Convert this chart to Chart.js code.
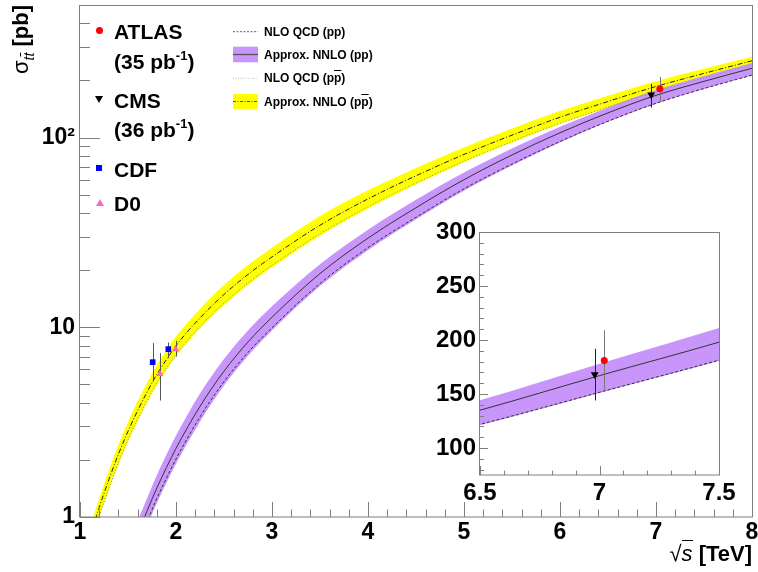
<!DOCTYPE html>
<html>
<head>
<meta charset="utf-8">
<script src="https://cdn.jsdelivr.net/npm/chart.js@4.4.1/dist/chart.umd.min.js"></script>
<style>
body { margin: 0; background: #fff; }
#wrap { position: relative; width: 758px; height: 572px; overflow: hidden; font-family: 'Liberation Sans', Arial, sans-serif; color: #000; }
canvas { position: absolute; }
.t { position: absolute; white-space: nowrap; font-weight: bold; }
.big { font-size: 21px; line-height: 21px; }
.small { font-size: 12px; line-height: 14px; }
.sup { font-size: 13px; position: relative; top: -9px; }
.ob { text-decoration: overline; }
.mk { position: absolute; width: 0; height: 0; }
</style>
</head>
<body>
<div id="wrap">
  <canvas id="main" width="758" height="572" style="left:0;top:0"></canvas>
  <canvas id="inset" width="330" height="300" style="left:420px;top:215px"></canvas>

  <!-- legenda experimentos -->
  <div class="mk" style="left:95.8px;top:26.5px;width:7px;height:7px;border-radius:50%;background:#ff0000"></div>
  <div class="t big" style="left:114px;top:20.5px">ATLAS</div>
  <div class="t big" style="left:114px;top:50.7px">(35 pb<span class="sup">-1</span>)</div>
  <div class="mk" style="left:95.3px;top:95.5px;border-left:4px solid transparent;border-right:4px solid transparent;border-top:7px solid #000"></div>
  <div class="t big" style="left:114px;top:89.5px">CMS</div>
  <div class="t big" style="left:114px;top:118.9px">(36 pb<span class="sup">-1</span>)</div>
  <div class="mk" style="left:96px;top:165.3px;width:6px;height:6px;background:#0000ff"></div>
  <div class="t big" style="left:114px;top:158.9px">CDF</div>
  <div class="mk" style="left:96px;top:198.8px;border-left:4px solid transparent;border-right:4px solid transparent;border-bottom:7px solid #ff66cc"></div>
  <div class="t big" style="left:114px;top:192.9px">D0</div>

  <!-- legenda teoria -->
  <svg style="position:absolute;left:233px;top:24px" width="26" height="88">
    <line x1="0" y1="7.7" x2="25" y2="7.7" stroke="#333" stroke-width="0.8" stroke-dasharray="2 1.5"/>
    <rect x="0" y="22.7" width="25" height="15.6" fill="rgb(200,150,250)"/>
    <line x1="0" y1="30.5" x2="25" y2="30.5" stroke="#555" stroke-width="1.3"/>
    <line x1="0" y1="54.3" x2="25" y2="54.3" stroke="#aaa" stroke-width="0.8" stroke-dasharray="1 1.5"/>
    <rect x="0" y="70" width="25" height="15" fill="#ffff00"/>
    <line x1="0" y1="77.5" x2="25" y2="77.5" stroke="#333" stroke-width="0.8" stroke-dasharray="3 1.5 1 1.5"/>
  </svg>
  <div class="t small" style="left:264px;top:24.8px">NLO QCD (pp)</div>
  <div class="t small" style="left:264px;top:47.6px">Approx. NNLO (pp)</div>
  <div class="t small" style="left:264px;top:71.4px">NLO QCD (p<span class="ob">p</span>)</div>
  <div class="t small" style="left:264px;top:94.6px">Approx. NNLO (p<span class="ob">p</span>)</div>

  <!-- titulos de ejes -->
  <div class="t" style="left:8px;top:95px;width:90px;text-align:right;font-size:22px;line-height:26px;transform-origin:0 0;transform:rotate(-90deg)"><span style="font-weight:normal">σ</span><span style="font-size:14px;font-style:italic;font-weight:normal;position:relative;top:6px">t<span class="ob">t</span></span> [pb]</div>
  <div class="t" style="left:560px;top:541px;width:192px;text-align:right;font-size:22px;line-height:26px"><span style="font-weight:normal">√<span style="border-top:1px solid #000;font-style:italic">s</span></span> [TeV]</div>
</div>

<script>
// Energía (TeV) y secciones eficaces (pb)
const sqrtS = [1.1, 1.2, 1.3, 1.4, 1.5, 1.6, 1.7, 1.8, 1.9, 2.0, 2.25, 2.5, 2.75, 3.0, 3.5, 4.0, 4.5, 5.0, 5.5, 6.0, 6.5, 7.0, 7.5, 8.0];

// p-pbar
const nnloPpbar   = [0.77, 1.12, 1.57, 2.14, 2.83, 3.63, 4.57, 5.64, 6.75, 8.0, 11.2, 14.9, 19.0, 23.5, 34.5, 47.5, 62.9, 81.5, 103, 128, 155, 186, 218, 254];
const nnloPpbarHi = [0.86, 1.25, 1.76, 2.40, 3.17, 4.07, 5.12, 6.32, 7.56, 8.96, 12.5, 16.7, 21.3, 26.3, 38.6, 52.7, 69.2, 88.8, 111.8, 138.2, 166.3, 198.1, 230.6, 266.7];
const nnloPpbarLo = [0.68, 0.99, 1.38, 1.88, 2.49, 3.19, 4.02, 4.96, 5.94, 7.04, 9.86, 13.1, 16.7, 20.7, 30.4, 42.3, 56.6, 74.2, 94.2, 117.8, 144.2, 173.9, 204.9, 240];
const nloPpbar    = [0.69, 1.01, 1.41, 1.93, 2.55, 3.27, 4.11, 5.08, 6.08, 7.2, 10.1, 13.4, 17.1, 21.2, 31.1, 43.2, 57.6, 75.0, 95.3, 119, 144.9, 174.8, 206, 241.3];

// p-p
const nnloPp   = [0.16, 0.22, 0.31, 0.43, 0.59, 0.81, 1.08, 1.42, 1.82, 2.30, 3.83, 5.87, 8.37, 11.3, 19.2, 29.5, 42.7, 60, 81, 106, 135, 167, 198, 232];
const nnloPpHi = [0.19, 0.26, 0.36, 0.50, 0.69, 0.95, 1.26, 1.66, 2.13, 2.69, 4.48, 6.81, 9.63, 12.9, 21.5, 32.7, 47.0, 65.4, 87.5, 114, 144.2, 178, 211, 247];
const nnloPpLo = [0.13, 0.18, 0.26, 0.36, 0.49, 0.67, 0.90, 1.18, 1.51, 1.91, 3.18, 4.93, 7.07, 9.61, 16.5, 25.5, 37.1, 52.5, 71.3, 94.3, 121.1, 151, 180.6, 212.3];
const nloPp    = [0.14, 0.19, 0.27, 0.38, 0.52, 0.71, 0.95, 1.25, 1.60, 2.02, 3.37, 5.17, 7.37, 9.94, 17.0, 26.3, 38.0, 53.7, 72.5, 95.4, 121.9, 151.6, 181.4, 213.4];

// Medidas
const cdfX = [1.757, 1.92],  cdfY = [6.55, 7.67], cdfLo = [5.18, 6.88], cdfHi = [8.25, 8.31];
const d0X  = [1.833, 1.997], d0Y  = [5.68, 7.67], d0Lo  = [4.11, 7.01], d0Hi  = [7.31, 8.49];
const cmsX = [6.95],  cmsInsetX = [6.98],  cmsY = [168],  cmsLo = [144],  cmsHi = [192];
const atlasX = [7.04], atlasInsetX = [7.02], atlasY = [181], atlasLo = [154], atlasHi = [209];

// Ejes
const xTicksMain = [1, 2, 3, 4, 5, 6, 7, 8];
const yTicksMain = [1, 10, 100];
const xTicksInset = [6.5, 7, 7.5];
const yTicksInset = [100, 150, 200, 250, 300];

const FONT = "'Liberation Sans', Arial, sans-serif";
const YELLOW = '#ffff00';
const PURPLE = 'rgb(200,150,250)';
const AXIS_GRAY = '#7f7f7f';

function pts(xs, ys) {
    return xs.map((x, i) => ({ x: x, y: ys[i] }));
}

function banda(hi, lo, color, order) {
    return [
        { data: pts(sqrtS, hi), fill: '+1', backgroundColor: color, borderColor: 'rgba(0,0,0,0)',
          borderWidth: 0, pointRadius: 0, cubicInterpolationMode: 'monotone', order: order },
        { data: pts(sqrtS, lo), fill: false, borderColor: 'rgba(0,0,0,0)',
          borderWidth: 0, pointRadius: 0, cubicInterpolationMode: 'monotone', order: order }
    ];
}

function curva(ys, color, dash) {
    return { data: pts(sqrtS, ys), fill: false, borderColor: color, borderWidth: 1, borderDash: dash,
             pointRadius: 0, cubicInterpolationMode: 'monotone', order: 5 };
}

function marcadores(xs, ys, lo, hi, estilo, color, radio, rot, errColor) {
    return { data: pts(xs, ys), showLine: false, fill: false, pointStyle: estilo, pointRadius: radio,
             pointRotation: rot, pointBackgroundColor: color, pointBorderColor: color, pointBorderWidth: 0,
             errLow: lo, errHigh: hi, errColor: errColor, order: 1 };
}

function range(from, step, n) {
    const out = [];
    for (let i = 0; i <= n; i++) out.push(+(from + i * step).toFixed(6));
    return out;
}

function fijarEje(w, h) {
    return s => {
        if (w) s.width = w;
        if (h) s.height = h;
        s.paddingLeft = s.paddingRight = s.paddingTop = s.paddingBottom = 0;
    };
}

// Barras de error verticales, dibujadas justo antes de los marcadores
const errorBars = {
    id: 'errorBars',
    beforeDatasetDraw(chart, args) {
        const ds = chart.data.datasets[args.index];
        if (!ds.errLow) return;
        const { ctx, scales: { x, y } } = chart;
        ctx.save();
        ctx.strokeStyle = ds.errColor;
        ctx.lineWidth = 1;
        ds.data.forEach((p, i) => {
            const px = Math.round(x.getPixelForValue(p.x)) + 0.5;
            ctx.beginPath();
            ctx.moveTo(px, y.getPixelForValue(ds.errLow[i]));
            ctx.lineTo(px, y.getPixelForValue(ds.errHigh[i]));
            ctx.stroke();
        });
        ctx.restore();
    }
};

// Marco y marcas hacia dentro, estilo ROOT
const rootAxes = {
    id: 'rootAxes',
    beforeDatasetsDraw(chart, args, opts) {
        const { ctx, chartArea: a } = chart;
        ctx.save();
        ctx.fillStyle = '#fff';
        ctx.fillRect(a.left, a.top, a.right - a.left, a.bottom - a.top);
        ctx.restore();
    },
    afterDraw(chart, args, opts) {
        const { ctx, chartArea: a, scales: { x, y } } = chart;
        ctx.save();
        ctx.strokeStyle = AXIS_GRAY;
        ctx.lineWidth = 1;
        ctx.strokeRect(Math.round(a.left) - 0.5, Math.round(a.top) + 0.5,
                       Math.round(a.right - a.left) + 1, Math.round(a.bottom - a.top) - 0.5);
        ctx.beginPath();
        opts.xMinor.forEach(v => {
            const px = Math.round(x.getPixelForValue(v)) + 0.5;
            const len = opts.xMajor.includes(v) ? opts.xLen : opts.xLen / 2;
            ctx.moveTo(px, a.bottom);
            ctx.lineTo(px, a.bottom - len);
        });
        opts.yMinor.forEach(v => {
            const py = Math.round(y.getPixelForValue(v)) + 0.5;
            const len = opts.yMajor.includes(v) ? opts.yLen : opts.yLen / 2;
            ctx.moveTo(a.left, py);
            ctx.lineTo(a.left + len, py);
        });
        ctx.stroke();
        ctx.restore();
    }
};

const logMinor = [];
[1, 10, 100].forEach(d => { for (let k = 1; k <= 9; k++) if (k * d <= 500) logMinor.push(k * d); });

const fuenteTicks = size => ({ family: FONT, size: size, weight: 'bold' });

// Gráfico principal
new Chart(document.getElementById('main'), {
    type: 'line',
    data: {
        datasets: [
            ...banda(nnloPpbarHi, nnloPpbarLo, YELLOW, 10),
            ...banda(nnloPpHi, nnloPpLo, PURPLE, 9),
            curva(nnloPpbar, '#222', [5, 2, 1, 2]),
            curva(nloPpbar, '#888', [1, 2]),
            curva(nnloPp, '#333', []),
            curva(nloPp, '#333', [3, 2]),
            marcadores(cdfX, cdfY, cdfLo, cdfHi, 'rect', '#0000ff', 4, 0, '#555'),
            marcadores(d0X, d0Y, d0Lo, d0Hi, 'triangle', '#ff66cc', 4, 0, '#555'),
            marcadores(cmsX, cmsY, cmsLo, cmsHi, 'triangle', '#000', 4.5, 180, '#222'),
            marcadores(atlasX, atlasY, atlasLo, atlasHi, 'circle', '#ff0000', 3.5, 0, '#777')
        ]
    },
    options: {
        responsive: false,
        animation: false,
        devicePixelRatio: 1,
        layout: { padding: { top: 5, right: 6, left: 0, bottom: 0 } },
        plugins: {
            legend: { display: false },
            tooltip: { enabled: false },
            rootAxes: { xMinor: range(1, 0.2, 35), xMajor: xTicksMain, xLen: 15,
                        yMinor: logMinor, yMajor: yTicksMain, yLen: 20 }
        },
        scales: {
            x: {
                type: 'linear', min: 1, max: 8,
                afterBuildTicks: s => { s.ticks = xTicksMain.map(v => ({ value: v })); },
                afterFit: fijarEje(0, 55),
                grid: { display: false, drawTicks: false },
                border: { display: false },
                ticks: { font: fuenteTicks(23), color: '#000', padding: 2, maxRotation: 0, autoSkip: false,
                         callback: v => String(v) }
            },
            y: {
                type: 'logarithmic', min: 1, max: 500,
                afterBuildTicks: s => { s.ticks = yTicksMain.map(v => ({ value: v })); },
                afterFit: fijarEje(80, 0),
                grid: { display: false, drawTicks: false },
                border: { display: false },
                ticks: { font: fuenteTicks(23), color: '#000', padding: 5, autoSkip: false,
                         callback: v => v === 100 ? '10²' : String(v) }
            }
        }
    },
    plugins: [errorBars, rootAxes]
});

// Recuadro ampliado alrededor de 7 TeV
new Chart(document.getElementById('inset'), {
    type: 'line',
    data: {
        datasets: [
            ...banda(nnloPpHi, nnloPpLo, PURPLE, 9),
            curva(nnloPp, '#333', []),
            curva(nloPp, '#333', [3, 2]),
            marcadores(cmsInsetX, cmsY, cmsLo, cmsHi, 'triangle', '#000', 4.5, 180, '#222'),
            marcadores(atlasInsetX, atlasY, atlasLo, atlasHi, 'circle', '#ff0000', 3.5, 0, '#777')
        ]
    },
    options: {
        responsive: false,
        animation: false,
        devicePixelRatio: 1,
        layout: { padding: { top: 17, right: 31, left: 0, bottom: 0 } },
        plugins: {
            legend: { display: false },
            tooltip: { enabled: false },
            rootAxes: { xMinor: range(6.5, 0.1, 10), xMajor: xTicksInset, xLen: 9,
                        yMinor: range(80, 10, 22), yMajor: yTicksInset, yLen: 8 }
        },
        scales: {
            x: {
                type: 'linear', min: 6.5, max: 7.5,
                afterBuildTicks: s => { s.ticks = xTicksInset.map(v => ({ value: v })); },
                afterFit: fijarEje(0, 40),
                grid: { display: false, drawTicks: false },
                border: { display: false },
                ticks: { font: fuenteTicks(24), color: '#000', padding: 4, maxRotation: 0, autoSkip: false,
                         callback: v => String(v) }
            },
            y: {
                type: 'linear', min: 75, max: 300,
                afterBuildTicks: s => { s.ticks = yTicksInset.map(v => ({ value: v })); },
                afterFit: fijarEje(60, 0),
                grid: { display: false, drawTicks: false },
                border: { display: false },
                ticks: { font: fuenteTicks(24), color: '#000', padding: 4, autoSkip: false,
                         callback: v => String(v) }
            }
        }
    },
    plugins: [errorBars, rootAxes]
});
</script>
</body>
</html>
